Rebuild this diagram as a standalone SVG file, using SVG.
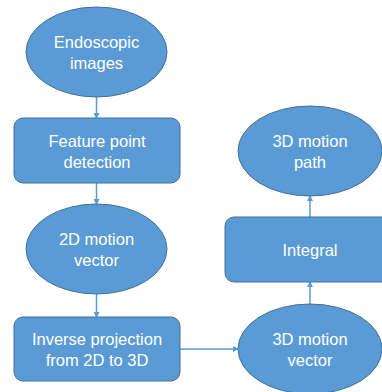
<svg xmlns="http://www.w3.org/2000/svg" width="382" height="392" viewBox="0 0 382 392">
<defs>
<style>
.n{fill:#5b9bd5;stroke:#41719c;stroke-width:1}
.t{fill:#ffffff;font-family:"Liberation Sans",Arial,sans-serif;font-size:16.5px;text-anchor:middle}
.c{stroke:#5b9bd5;stroke-width:1.5;fill:none;marker-end:url(#ah)}
</style>
<marker id="ah" markerWidth="6" markerHeight="6" refX="5" refY="3" orient="auto" markerUnits="userSpaceOnUse">
<path d="M0,0 L6,3 L0,6 Z" fill="#5b9bd5"/>
</marker>
</defs>
<rect width="382" height="392" fill="#ffffff"/>
<g id="connectors">
<line class="c" x1="96.5" y1="97" x2="96.5" y2="118"/>
<line class="c" x1="96.5" y1="183" x2="96.5" y2="204"/>
<line class="c" x1="96.5" y1="294" x2="96.5" y2="317"/>
<line class="c" x1="180" y1="349" x2="238" y2="349"/>
<line class="c" x1="310" y1="304" x2="310" y2="282"/>
<line class="c" x1="310" y1="217" x2="310" y2="196"/>
</g>
<g id="endoscopic">
<ellipse class="n" cx="96.5" cy="52" rx="70.5" ry="45"/>
<text class="t" x="96.5" y="48">Endoscopic</text>
<text class="t" x="96.5" y="69">images</text>
</g>
<g id="feature">
<rect class="n" x="14" y="118" width="166" height="65" rx="9"/>
<text class="t" x="97" y="147">Feature point</text>
<text class="t" x="97" y="168">detection</text>
</g>
<g id="motion2d">
<ellipse class="n" cx="96.5" cy="249" rx="70.5" ry="45"/>
<text class="t" x="96.5" y="245">2D motion</text>
<text class="t" x="96.5" y="266">vector</text>
</g>
<g id="inverse">
<rect class="n" x="14" y="317" width="166" height="64" rx="9"/>
<text class="t" x="97" y="345">Inverse projection</text>
<text class="t" x="97" y="366">from 2D to 3D</text>
</g>
<g id="motion3d">
<ellipse class="n" cx="310" cy="349" rx="72" ry="45"/>
<text class="t" x="310" y="345">3D motion</text>
<text class="t" x="310" y="366">vector</text>
</g>
<g id="integral">
<rect class="n" x="225" y="217" width="166" height="65" rx="9"/>
<text class="t" x="310" y="256">Integral</text>
</g>
<g id="path3d">
<ellipse class="n" cx="310" cy="151" rx="72" ry="45"/>
<text class="t" x="310" y="147">3D motion</text>
<text class="t" x="310" y="168">path</text>
</g>
</svg>
